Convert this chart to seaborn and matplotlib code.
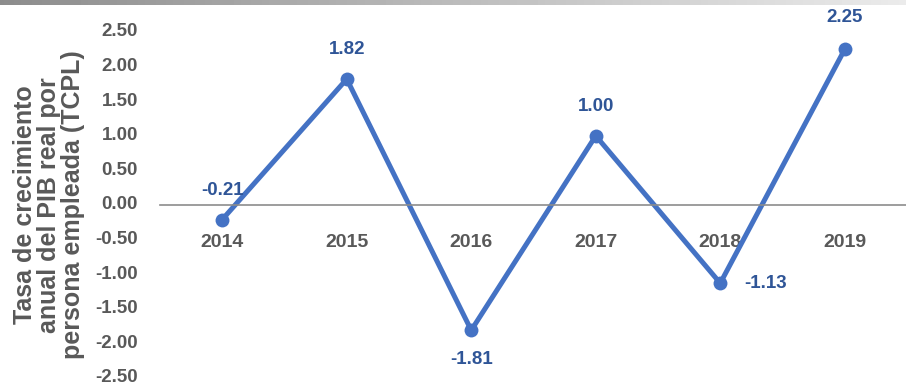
import numpy as np
import pandas as pd
import matplotlib
matplotlib.use("Agg")
import matplotlib.pyplot as plt
import matplotlib.transforms as mtrans
import seaborn as sns

### Data
years = ["2014", "2015", "2016", "2017", "2018", "2019"]
tcpl = [-0.21, 1.82, -1.81, 1.00, -1.13, 2.25]
y_ticks = [2.5, 2.0, 1.5, 1.0, 0.5, 0.0, -0.5, -1.0, -1.5, -2.0, -2.5]

df = pd.DataFrame({"year": years, "tcpl": tcpl})

sns.set_style("white")
plt.rcParams['font.family'] = ['Liberation Sans', 'DejaVu Sans']

gray = "#595959"
line_col = "#4472C4"
lab_col = "#2F5597"

fig = plt.figure(figsize=(9.06, 3.86), dpi=100)
ax = fig.add_axes([160 / 906, 8 / 386, 747 / 906, 346 / 386])

sns.lineplot(data=df, x="year", y="tcpl", ax=ax, color=line_col, linewidth=3.6,
             marker="o", markersize=10, markeredgewidth=0, sort=False)

ax.set_xlim(-0.5, 5.5)
ax.set_ylim(-2.5, 2.5)

# axis through zero, labels next to it
for s in ["top", "right", "left"]:
    ax.spines[s].set_visible(False)
ax.spines["bottom"].set_position(("data", 0))
ax.spines["bottom"].set_color("#8c8c8c")
ax.spines["bottom"].set_linewidth(1.2)

ax.set_xticks(range(len(years)))
ax.set_xticklabels(years)
ax.set_xticks(np.arange(-0.5, len(years), 1), minor=True)
ax.tick_params(axis="x", which="both", direction="out", length=5, color="#8c8c8c",
               width=1.2, labelsize=14, labelcolor=gray, pad=16)
for t in ax.get_xticklabels():
    t.set_fontweight("bold")

ax.set_yticks(y_ticks)
ax.set_yticklabels(["{:.2f}".format(v) for v in y_ticks], fontweight="bold")
ax.tick_params(axis="y", length=0, labelsize=13.5, labelcolor=gray, pad=16)
# lift the value labels a little so -2.50 stays inside
shift = mtrans.ScaledTranslation(0, 1.5 / 72, fig.dpi_scale_trans)
for t in ax.get_yticklabels():
    t.set_transform(t.get_transform() + shift)

ax.set_xlabel("")
ax.set_ylabel("Tasa de crecimiento\nanual del PIB real por\npersona empleada (TCPL)",
              fontsize=18, fontweight="bold", color=gray, linespacing=1.0)
ax.yaxis.set_label_coords(-0.1, 0.5)

# data labels
offsets = [(0, 15, "center", "bottom"), (0, 15, "center", "bottom"),
           (0, -15, "center", "top"), (0, 15, "center", "bottom"),
           (17, 0, "left", "center"), (0, 17, "center", "bottom")]
for i, v in enumerate(tcpl):
    dx, dy, ha, va = offsets[i]
    ax.annotate("{:.2f}".format(v), (i, v), xytext=(dx, dy), textcoords="offset points",
                ha=ha, va=va, fontsize=13.5, fontweight="bold", color=lab_col)

# gray header bar
hdr = fig.add_axes([0, 1 - 5 / 386, 1, 5 / 386])
grad = np.linspace(0.55, 0.92, 256).reshape(1, -1)
hdr.imshow(grad, aspect="auto", cmap="gray", vmin=0, vmax=1)
hdr.axis("off")

fig.savefig("out.png", dpi=100)
